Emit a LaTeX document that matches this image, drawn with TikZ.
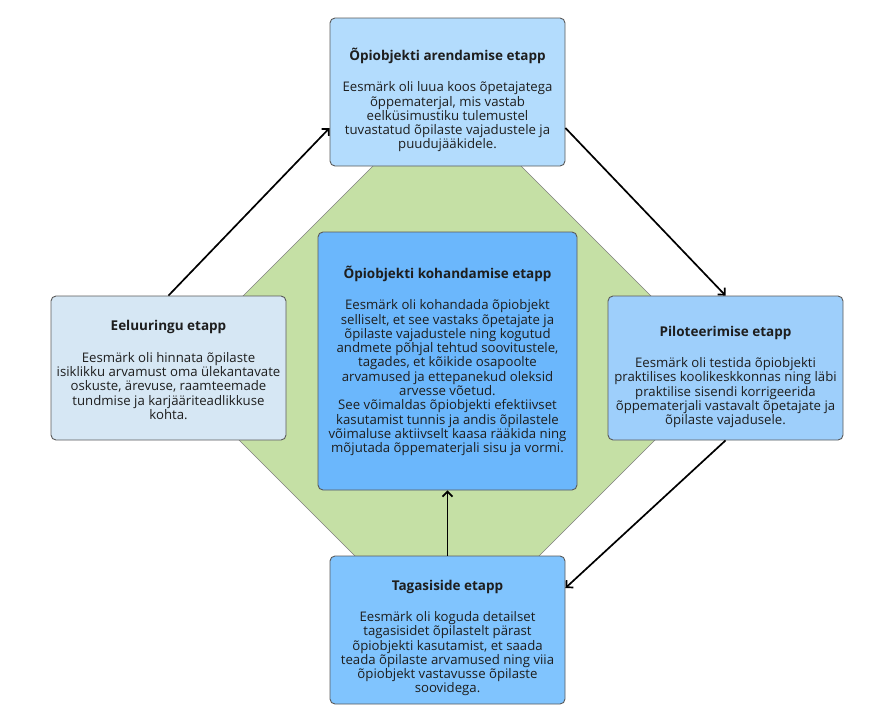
\documentclass[tikz,border=0pt]{standalone}
\usepackage{fontspec}
\setmainfont{Open Sans}
\usepackage{xcolor}
\usepackage{tikz}
\usetikzlibrary{calc, arrows.meta}

\definecolor{arendsin}{HTML}{B3DCFD}
\definecolor{eelsin}{HTML}{D6E7F4}
\definecolor{pilotsin}{HTML}{9ECFFB}
\definecolor{kohandsin}{HTML}{6BB7FC}
\definecolor{tagassin}{HTML}{80C4FE}
\definecolor{roheline}{HTML}{C5E0A5}
\definecolor{servhall}{HTML}{5A5A5A}
\definecolor{tekst}{HTML}{1E1E1E}

% pealkiri; valikuline argument = ruum pealkirja kohal
\newcommand{\pealk}[2][0pt]{{\bfseries\fontsize{13.5}{14.3}\selectfont
    \rule{0pt}{#1}#2}\\[17pt]}

\begin{document}
\begin{tikzpicture}[x=1pt, y=-1pt, >={Straight Barb[length=5pt, width=10pt]},
    etapp/.style={draw=servhall, line width=0.9pt, rounded corners=5pt,
        align=center, inner sep=0pt, text=tekst,
        font=\fontsize{13.2}{14.3}\selectfont},
    nool/.style={->, line width=1.7pt}]
    \useasboundingbox (0,0) rectangle (893,723);

    % 1. Roheline kaheksanurk taustal
    \filldraw[fill=roheline, draw=gray, line width=0.6pt]
        (389,150) -- (505,150) -- (664,309) -- (664,431) -- (505,590)
        -- (389,590) -- (230,431) -- (230,309) -- cycle;

    % 2. Etappide kastid
    \node[etapp, fill=arendsin, minimum width=235pt, minimum height=148pt]
        (arend) at (447.5,92) {\pealk[28.6pt]{Õpiobjekti arendamise etapp}
        Eesmärk oli luua koos õpetajatega\\
        õppematerjal, mis vastab\\
        eelküsimustiku tulemustel\\
        tuvastatud õpilaste vajadustele ja\\
        puudujääkidele.};

    \node[etapp, fill=eelsin, minimum width=235pt, minimum height=144pt]
        (eel) at (168.5,368) {\pealk[14.3pt]{Eeluuringu etapp}
        Eesmärk oli hinnata õpilaste\\
        isiklikku arvamust oma ülekantavate\\
        oskuste, ärevuse, raamteemade\\
        tundmise ja karjääriteadlikkuse\\
        kohta.};

    \node[etapp, fill=pilotsin, minimum width=235pt, minimum height=144pt]
        (pilot) at (725.5,368) {\pealk[28.3pt]{Piloteerimise etapp}
        Eesmärk oli testida õpiobjekti\\
        praktilises koolikeskkonnas ning läbi\\
        praktilise sisendi korrigeerida\\
        õppematerjali vastavalt õpetajate ja\\
        õpilaste vajadusele.};

    \node[etapp, fill=kohandsin, minimum width=259pt, minimum height=258pt]
        (kohand) at (447.5,361) {\pealk{Õpiobjekti kohandamise etapp}
        Eesmärk oli kohandada õpiobjekt\\
        selliselt, et see vastaks õpetajate ja\\
        õpilaste vajadustele ning kogutud\\
        andmete põhjal tehtud soovitustele,\\
        tagades, et kõikide osapoolte\\
        arvamused ja ettepanekud oleksid\\
        arvesse võetud.\\
        See võimaldas õpiobjekti efektiivset\\
        kasutamist tunnis ja andis õpilastele\\
        võimaluse aktiivselt kaasa rääkida ning\\
        mõjutada õppematerjali sisu ja vormi.};

    \node[etapp, fill=tagassin, minimum width=235pt, minimum height=148pt]
        (tagas) at (447.5,630) {\pealk[26.3pt]{Tagasiside etapp}
        Eesmärk oli koguda detailset\\
        tagasisidet õpilastelt pärast\\
        õpiobjekti kasutamist, et saada\\
        teada õpilaste arvamused ning viia\\
        õpiobjekt vastavusse õpilaste\\
        soovidega.};

    % 3. Nooled etappide vahel
    \draw[nool] (eel.north) -- ([yshift=-36pt]arend.west);
    \draw[nool] ([yshift=-36pt]arend.east) -- (pilot.north);
    \draw[nool] (pilot.south) -- ([yshift=42pt]tagas.east);
    \draw[nool] (tagas.north) -- (kohand.south);
\end{tikzpicture}
\end{document}
